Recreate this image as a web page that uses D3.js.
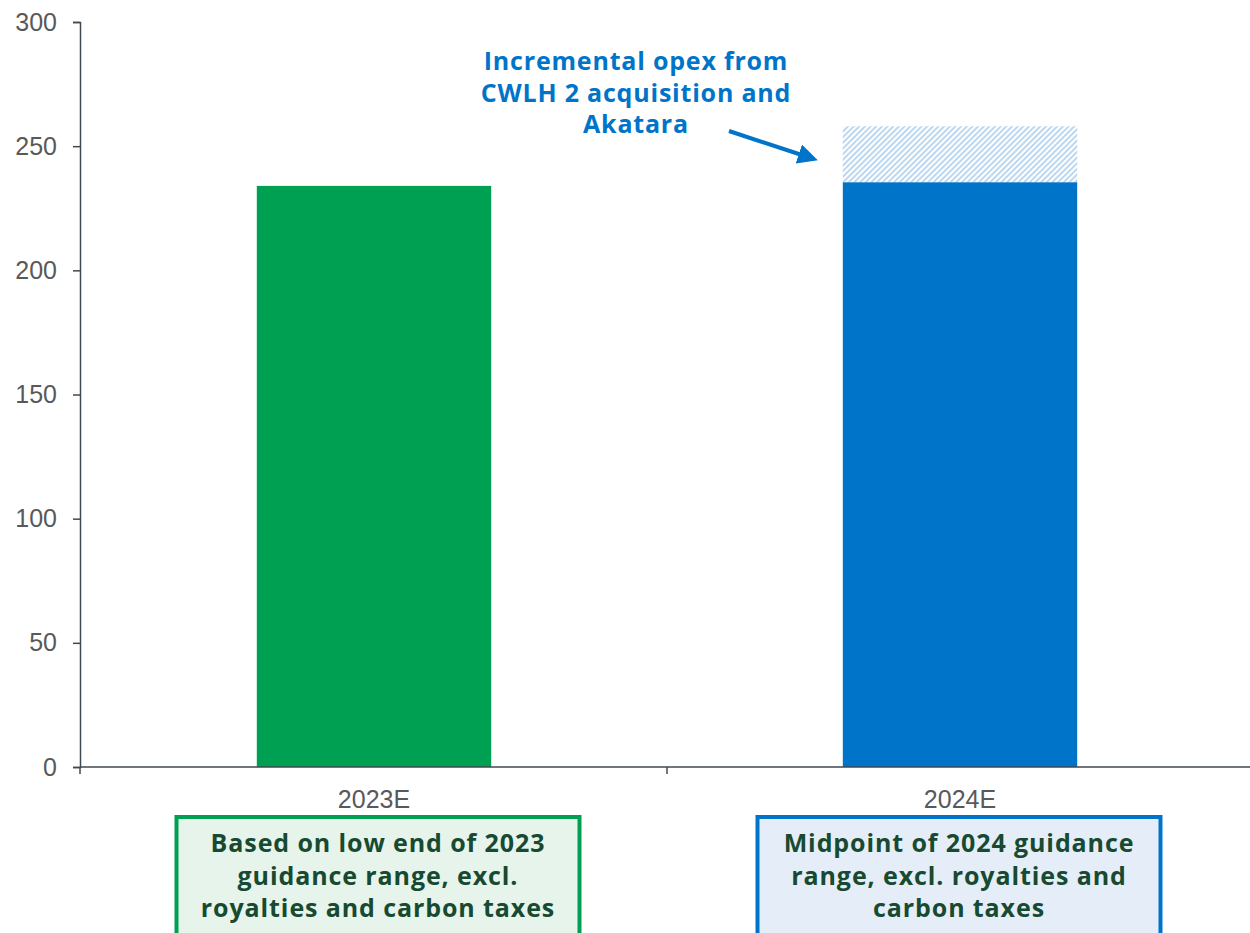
<!DOCTYPE html>
<html>
<head>
<meta charset="utf-8">
<script src="https://cdn.jsdelivr.net/npm/d3@7"></script>
<style>
  body { margin: 0; background: #fff; }
  svg { display: block; }
</style>
</head>
<body>
<svg id="chart"></svg>
<script>
const categories = ["2023E", "2024E"];
const baseValues = [234, 235.5];
const incrementValues = [0, 22.5];
const yTicks = [0, 50, 100, 150, 200, 250, 300];
const noteLines = ["Incremental opex from", "CWLH 2 acquisition and", "Akatara"];
const boxLines = [
  ["Based on low end of 2023", "guidance range, excl.", "royalties and carbon taxes"],
  ["Midpoint of 2024 guidance", "range, excl. royalties and", "carbon taxes"]
];

const width = 1250;
const height = 933;
const barColors = ["#00a053", "#0074c9"];
const boxFills = ["#e6f4ec", "#e5eef8"];
const boxShift = [4, -1];

const svg = d3.select("#chart")
  .attr("width", width)
  .attr("height", height);

// hatch pattern for the incremental part
const defs = svg.append("defs");
const pattern = defs.append("pattern")
  .attr("id", "hatch")
  .attr("patternUnits", "userSpaceOnUse")
  .attr("width", 4)
  .attr("height", 4)
  .attr("patternTransform", "rotate(45)");
pattern.append("rect").attr("width", 4).attr("height", 4).attr("fill", "#fff");
pattern.append("rect").attr("width", 2).attr("height", 4).attr("fill", "#bcd7f0");

const marker = defs.append("marker")
  .attr("id", "arrow")
  .attr("viewBox", "0 0 10 10")
  .attr("refX", 8)
  .attr("refY", 5)
  .attr("markerWidth", 5)
  .attr("markerHeight", 5)
  .attr("orient", "auto");
marker.append("path").attr("d", "M0,0 L10,5 L0,10 z").attr("fill", "#0074c9");

const x = d3.scaleBand()
  .domain(categories)
  .range([81, 1253])
  .paddingInner(0.6)
  .paddingOuter(0.3);

const y = d3.scaleLinear()
  .domain([0, 300])
  .range([767, 22]);

// bars
svg.selectAll("rect.base")
  .data(categories)
  .enter()
  .append("rect")
  .attr("class", "base")
  .attr("x", d => x(d))
  .attr("width", x.bandwidth())
  .attr("y", (d, i) => y(baseValues[i]))
  .attr("height", (d, i) => y(0) - y(baseValues[i]))
  .attr("fill", (d, i) => barColors[i]);

svg.selectAll("rect.incr")
  .data(categories.filter((d, i) => incrementValues[i] > 0))
  .enter()
  .append("rect")
  .attr("class", "incr")
  .attr("x", d => x(d))
  .attr("width", x.bandwidth())
  .attr("y", d => {
    const i = categories.indexOf(d);
    return y(baseValues[i] + incrementValues[i]);
  })
  .attr("height", d => {
    const i = categories.indexOf(d);
    return y(baseValues[i]) - y(baseValues[i] + incrementValues[i]);
  })
  .attr("fill", "url(#hatch)");

// y axis
const yAxis = svg.append("g")
  .attr("transform", "translate(80,0)")
  .call(d3.axisLeft(y).tickValues(yTicks).tickSize(7).tickPadding(16));
yAxis.selectAll("path, line").attr("stroke", "#3f4850").attr("stroke-width", 1.5);
yAxis.selectAll("text")
  .attr("fill", "#595959")
  .style("font-family", "Liberation Sans, Arial, sans-serif")
  .style("font-size", "25px");

// x axis: line with boundary ticks
const xAxis = svg.append("g");
xAxis.append("line")
  .attr("x1", 80).attr("x2", 1252)
  .attr("y1", y(0)).attr("y2", y(0))
  .attr("stroke", "#3f4850").attr("stroke-width", 1.5);
const bounds = [80, (x(categories[0]) + x.bandwidth() + x(categories[1])) / 2];
xAxis.selectAll("line.tick")
  .data(bounds)
  .enter()
  .append("line")
  .attr("x1", d => d).attr("x2", d => d)
  .attr("y1", y(0)).attr("y2", y(0) + 7)
  .attr("stroke", "#3f4850").attr("stroke-width", 1.5);

xAxis.selectAll("text")
  .data(categories)
  .enter()
  .append("text")
  .attr("x", d => x(d) + x.bandwidth() / 2)
  .attr("y", 808)
  .attr("text-anchor", "middle")
  .attr("fill", "#595959")
  .style("font-family", "Liberation Sans, Arial, sans-serif")
  .style("font-size", "25px")
  .text(d => d);

// description boxes
const boxes = svg.selectAll("g.box")
  .data(categories)
  .enter()
  .append("g")
  .attr("class", "box");

boxes.append("rect")
  .attr("x", (d, i) => x(d) + x.bandwidth() / 2 + boxShift[i] - 201.5)
  .attr("y", 817)
  .attr("width", 403)
  .attr("height", 130)
  .attr("fill", (d, i) => boxFills[i])
  .attr("stroke", (d, i) => barColors[i])
  .attr("stroke-width", 4);

boxes.each(function(d, i) {
  d3.select(this).selectAll("text")
    .data(boxLines[i])
    .enter()
    .append("text")
    .attr("x", x(d) + x.bandwidth() / 2 + boxShift[i])
    .attr("y", (t, j) => 852 + j * 32.5)
    .attr("text-anchor", "middle")
    .attr("fill", "#174a30")
    .style("font-family", "Open Sans, sans-serif")
    .style("font-weight", "bold")
    .style("font-size", "25px")
    .style("letter-spacing", "0.9px")
    .text(t => t);
});

// annotation
svg.append("g")
  .selectAll("text")
  .data(noteLines)
  .enter()
  .append("text")
  .attr("x", 636)
  .attr("y", (t, j) => 70 + j * 31.5)
  .attr("text-anchor", "middle")
  .attr("fill", "#0074c9")
  .style("font-family", "Open Sans, sans-serif")
  .style("font-weight", "bold")
  .style("font-size", "25px")
  .style("letter-spacing", "0.8px")
  .text(t => t);

svg.append("line")
  .attr("x1", 729).attr("y1", 131)
  .attr("x2", 814).attr("y2", 159)
  .attr("stroke", "#0074c9")
  .attr("stroke-width", 4)
  .attr("marker-end", "url(#arrow)");
</script>
</body>
</html>
